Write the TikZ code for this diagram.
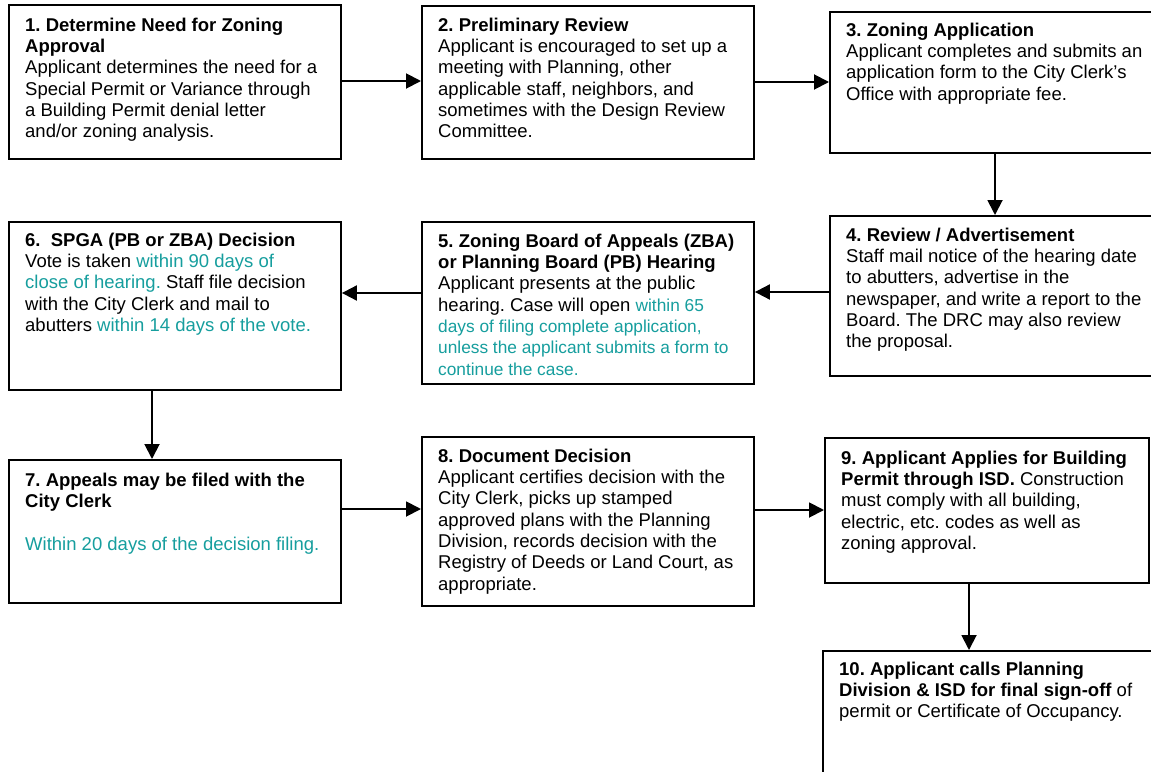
\documentclass[tikz,border=0pt]{standalone}
\usepackage{fontspec}
\setmainfont{Liberation Sans}
\usetikzlibrary{arrows.meta}
\definecolor{teal}{RGB}{22,158,158}
\newcommand{\tl}[1]{\textcolor{teal}{#1}}
\newcommand{\tls}[1]{{\fontsize{17.3}{19.8}\selectfont\textcolor{teal}{#1}}}
\frenchspacing
\begin{document}
\begin{tikzpicture}[x=1pt,y=-1pt,
  box/.style={draw=black,line width=1.9pt,rectangle,inner sep=0pt,anchor=north west,fill=none},
  txt/.style={anchor=north west,inner sep=0pt,align=left,font=\fontsize{18.5}{21.3}\selectfont\frenchspacing},
  arr/.style={line width=1.9pt,-{Triangle[length=15pt,width=15pt]}}]
\useasboundingbox (0,0) rectangle (1151,771);
\fill[white] (0,0) rectangle (1151,771);
\clip (0,0) rectangle (1151,771);
% boxes
\node[box,minimum width=332pt,minimum height=154pt] (b1) at (8,4) {};
\node[box,minimum width=332pt,minimum height=153pt] (b2) at (421,5) {};
\node[box,minimum width=332pt,minimum height=141pt] (b3) at (829,11) {};
\node[box,minimum width=332pt,minimum height=160pt] (b4) at (829,215) {};
\node[box,minimum width=332pt,minimum height=162pt] (b5) at (421,221) {};
\node[box,minimum width=332pt,minimum height=168pt] (b6) at (8,221) {};
\node[box,minimum width=332pt,minimum height=143pt] (b7) at (8,459) {};
\node[box,minimum width=332pt,minimum height=169pt] (b8) at (421,436) {};
\node[box,minimum width=324pt,minimum height=145pt] (b9) at (824,437) {};
\node[box,minimum width=340pt,minimum height=160pt] (b10) at (822,650) {};
% texts (first baseline minus strut height 14.9)
\node[txt] (t1) at (25,16.1) {\strut\textbf{1. Determine Need for Zoning}\\\textbf{Approval}\\Applicant determines the need for a\\Special Permit or Variance through\\a Building Permit denial letter\\and/or zoning analysis.};
\node[txt] (t2) at (438,16.1) {\strut\textbf{2. Preliminary Review}\\Applicant is encouraged to set up a\\meeting with Planning, other\\applicable staff, neighbors, and\\sometimes with the Design Review\\Committee.};
\node[txt] (t3) at (846,21.1) {\strut\textbf{3. Zoning Application}\\Applicant completes and submits an\\application form to the City Clerk’s\\Office with appropriate fee.};
\node[txt] (t4) at (846,226.1) {\strut\textbf{4. Review / Advertisement}\\Staff mail notice of the hearing date\\to abutters, advertise in the\\newspaper, and write a report to the\\Board. The DRC may also review\\the proposal.};
\node[txt] (t5) at (438,232.1) {\strut\textbf{5. Zoning Board of Appeals (ZBA)}\\\textbf{or Planning Board (PB) Hearing}\\Applicant presents at the public\\hearing. Case will open \tls{within 65}\\\tls{days of filing complete application,}\\\tls{unless the applicant submits a form to}\\\tls{continue the case.}};
\node[txt] (t6) at (25,231.1) {\strut\textbf{6.\ \ SPGA (PB or ZBA) Decision}\\Vote is taken \tl{within 90 days of}\\\tl{close of hearing.} Staff file decision\\with the City Clerk and mail to\\abutters \tl{within 14 days of the vote.}};
\node[txt] (t7) at (25,471.1) {\strut\textbf{7. Appeals may be filed with the}\\\textbf{City Clerk}\\\strut\\\tl{Within 20 days of the decision filing.}};
\node[txt] (t8) at (438,447.1) {\strut\textbf{8. Document Decision}\\Applicant certifies decision with the\\City Clerk, picks up stamped\\approved plans with the Planning\\Division, records decision with the\\Registry of Deeds or Land Court, as\\appropriate.};
\node[txt] (t9) at (841,449.1) {\strut\textbf{9. Applicant Applies for Building}\\\textbf{Permit through ISD.} Construction\\must comply with all building,\\electric, etc. codes as well as\\zoning approval.};
\node[txt] (t10) at (839,660.1) {\strut\textbf{10. Applicant calls Planning}\\\textbf{Division \& ISD for final sign-off} of\\permit or Certificate of Occupancy.};
% connectors
\draw[arr] (b1.east |- 0,81) -- (b2.west |- 0,81);
\draw[arr] (b2.east |- 0,82) -- (b3.west |- 0,82);
\draw[arr] (b3.south -| 995,0) -- (b4.north -| 995,0);
\draw[arr] (b4.west |- 0,292) -- (b5.east |- 0,292);
\draw[arr] (b5.west |- 0,293) -- (b6.east |- 0,293);
\draw[arr] (b6.south -| 152,0) -- (b7.north -| 152,0);
\draw[arr] (b7.east |- 0,509) -- (b8.west |- 0,509);
\draw[arr] (b8.east |- 0,510) -- (b9.west |- 0,510);
\draw[arr] (b9.south -| 969,0) -- (b10.north -| 969,0);
\end{tikzpicture}
\end{document}
